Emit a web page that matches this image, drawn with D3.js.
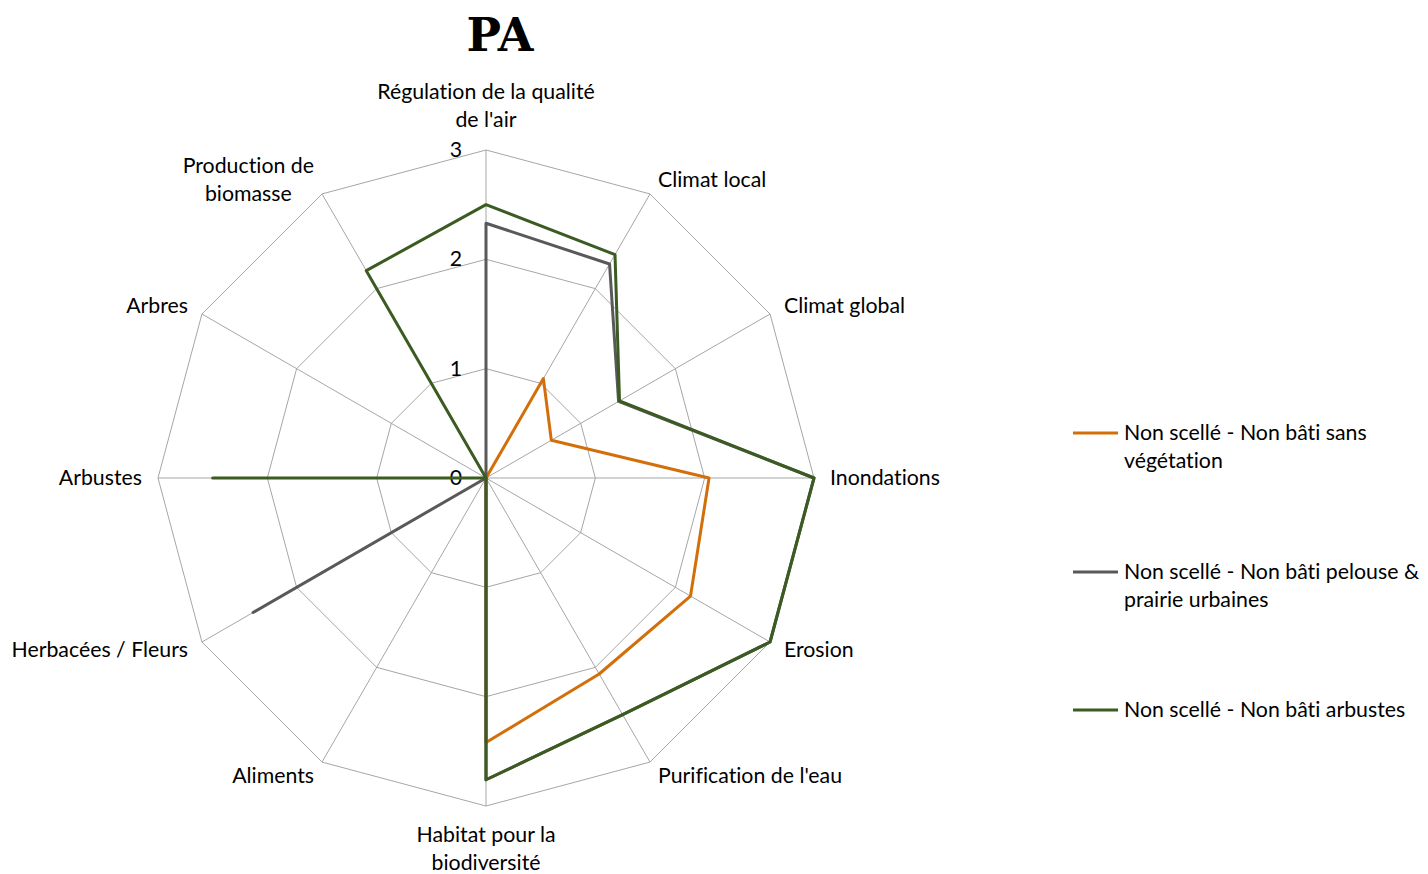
<!DOCTYPE html>
<html>
<head>
<meta charset="utf-8">
<script src="https://cdn.jsdelivr.net/npm/d3@7"></script>
<style>
  body { margin: 0; background: #fff; }
  text { font-family: Lato, "Open Sans", sans-serif; fill: #000; font-variant-ligatures: none; }
</style>
</head>
<body>
<div id="chart"></div>
<script>
const WIDTH = 1428;
const HEIGHT = 874;

// axes, clockwise from the top; multi-line labels are split as in the picture
const categories = [
    ["Régulation de la qualité", "de l'air"],
    ["Climat local"],
    ["Climat global"],
    ["Inondations"],
    ["Erosion"],
    ["Purification de l'eau"],
    ["Habitat pour la", "biodiversité"],
    ["Aliments"],
    ["Herbacées / Fleurs"],
    ["Arbustes"],
    ["Arbres"],
    ["Production de", "biomasse"]
];

const ticks = [0, 1, 2, 3];

const seriesNames = [
    "Non scellé - Non bâti sans végétation",
    "Non scellé - Non bâti pelouse & prairie urbaines",
    "Non scellé - Non bâti arbustes"
];
const legendLines = [
    ["Non scellé - Non bâti sans", "végétation"],
    ["Non scellé - Non bâti pelouse &", "prairie urbaines"],
    ["Non scellé - Non bâti arbustes"]
];
const colors = ["#D36F0B", "#595959", "#3B5B21"];

const sansVegetation = [0, 1.05, 0.69, 2.04, 2.16, 2.07, 2.42, 0, 0, 0, 0, 0];
const pelouse        = [2.33, 2.26, 1.4, 3, 3, 2.5, 2.76, 0, 2.46, 0, 0, 0];
const arbustes       = [2.5, 2.36, 1.41, 3, 3, 2.5, 2.76, 0, 0, 2.5, 0, 2.19];

const seriesValues = [sansVegetation, pelouse, arbustes];

const CX = 486, CY = 478, R = 328;
const LINE_H = 28;
const FONT = "21.3px";

const svg = d3.select("#chart").append("svg")
    .attr("width", WIDTH).attr("height", HEIGHT);

const rScale = d3.scaleLinear().domain([0, 3]).range([0, R]);
const angle = d3.scalePoint().domain(d3.range(categories.length + 1))
    .range([0, 2 * Math.PI]);

const pt = (i, v) => {
    const a = angle(i);
    return [CX + rScale(v) * Math.sin(a), CY - rScale(v) * Math.cos(a)];
};

// title
svg.append("text")
    .text("PA")
    .attr("x", 500).attr("y", 51)
    .attr("text-anchor", "middle")
    .style("font-family", "'DejaVu Serif', 'Liberation Serif', serif")
    .style("font-weight", "bold")
    .style("font-size", "46px");

const grid = svg.append("g");

// web rings
ticks.filter(t => t > 0).forEach(t => {
    grid.append("path")
        .attr("d", d3.line()(categories.map((c, i) => pt(i, t))) + "Z")
        .attr("fill", "none")
        .attr("stroke", "#A6A6A6")
        .attr("stroke-width", 1);
});

// spokes
categories.forEach((c, i) => {
    const [x, y] = pt(i, 3);
    grid.append("line")
        .attr("x1", CX).attr("y1", CY)
        .attr("x2", x).attr("y2", y)
        .attr("stroke", "#A6A6A6")
        .attr("stroke-width", 1);
});

// tick labels
ticks.forEach(t => {
    svg.append("text")
        .text(t)
        .attr("x", CX - 24)
        .attr("y", CY - rScale(t))
        .attr("dy", "0.33em")
        .attr("text-anchor", "end")
        .style("font-size", FONT);
});

// category labels
categories.forEach((lines, i) => {
    const a = angle(i);
    const s = Math.sin(a), c = Math.cos(a);
    const ax = CX + (R + 16) * s;
    const ay = CY - (R + 16) * c;

    const g = svg.append("g");
    const txt = g.append("text")
        .attr("text-anchor", "middle")
        .style("font-size", FONT);
    lines.forEach((l, k) => {
        txt.append("tspan")
            .attr("x", 0)
            .attr("y", k * LINE_H)
            .attr("dy", "0.32em")
            .text(l);
    });
    const w = d3.max(txt.selectAll("tspan").nodes(), n => n.getComputedTextLength());
    const blockH = lines.length * LINE_H;

    let x = ax;
    if (s > 0.1) x = ax + w / 2;
    else if (s < -0.1) x = ax - w / 2;

    let top;
    if (Math.abs(s) > 0.1) top = ay - blockH / 2;
    else if (c > 0) top = ay - blockH;
    else top = ay - 1;

    g.attr("transform", `translate(${x}, ${top + LINE_H / 2})`);
});

// series
const plot = svg.append("g");
seriesValues.forEach((vals, si) => {
    plot.append("path")
        .attr("d", d3.line()(vals.map((v, i) => pt(i, v))) + "Z")
        .attr("fill", "none")
        .attr("stroke", colors[si])
        .attr("stroke-width", 3)
        .attr("stroke-linejoin", "round");
});

// legend
const legendY = [433, 572, 710];
const legend = svg.append("g");
seriesNames.forEach((name, si) => {
    legend.append("line")
        .attr("x1", 1073).attr("x2", 1118)
        .attr("y1", legendY[si]).attr("y2", legendY[si])
        .attr("stroke", colors[si])
        .attr("stroke-width", 3);
    const t = legend.append("text").style("font-size", FONT);
    legendLines[si].forEach((l, k) => {
        t.append("tspan")
            .attr("x", 1124)
            .attr("y", legendY[si] + k * LINE_H)
            .attr("dy", "0.32em")
            .text(l);
    });
});
</script>
</body>
</html>
